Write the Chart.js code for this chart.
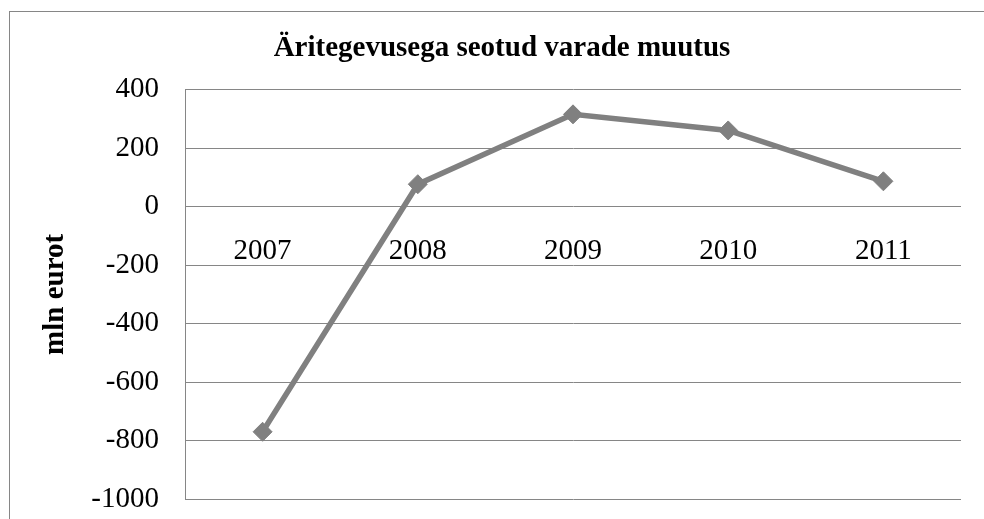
<!DOCTYPE html>
<html>
<head>
<meta charset="utf-8">
<title>Äritegevusega seotud varade muutus</title>
<script src="https://cdn.jsdelivr.net/npm/chart.js@4.4.1/dist/chart.umd.min.js"></script>
<style>
  html, body { margin: 0; padding: 0; background: #fff; overflow: hidden; }
  .frame { position: absolute; left: 9px; top: 11px; width: 1200px; height: 800px;
           border-left: 1px solid #868686; border-top: 1px solid #868686; }
  .chart-box { position: absolute; left: 0; top: 0; width: 984px; height: 519px; }
  #myChart { display: block; }
</style>
</head>
<body>
<div class="frame"></div>
<div class="chart-box"><canvas id="myChart" width="984" height="519"></canvas></div>
<script>
'use strict';
// DATA
var years = ['2007', '2008', '2009', '2010', '2011'];
var changeValues = [-770, 77, 316, 261, 87];
var yTicks = [400, 200, 0, -200, -400, -600, -800, -1000];

var SERIF = '"Liberation Serif", "Times New Roman", serif';
var GRID = '#868686';

// WYKRES
var ctx = document.getElementById('myChart').getContext('2d');

var chart = new Chart(ctx, {
  type: 'line',
  data: {
    labels: years,
    datasets: [{
      label: 'mln eurot',
      data: changeValues,
      borderColor: '#808080',
      backgroundColor: '#808080',
      borderWidth: 5.5,
      pointStyle: 'rectRot',
      pointRadius: 9.5,
      pointBorderWidth: 1,
      pointBorderColor: '#808080',
      pointBackgroundColor: '#808080',
      tension: 0
    }]
  },
  options: {
    responsive: false,
    animation: false,
    devicePixelRatio: 1,
    // left/right padding differ so the title sits where it does in the original
    layout: { padding: { left: 43, right: 23, top: 0, bottom: 20 } },
    plugins: {
      legend: { display: false },
      tooltip: { enabled: false },
      title: {
        display: true,
        text: 'Äritegevusega seotud varade muutus',
        color: '#000',
        font: { family: SERIF, size: 29, weight: 'bold', lineHeight: 1.2 },
        padding: { top: 31, bottom: 24 }
      }
    },
    scales: {
      x: {
        position: { y: 0 },
        offset: true,
        grid: { display: false },
        border: { display: false },
        ticks: {
          color: '#000',
          padding: 19,
          font: { family: SERIF, size: 29, lineHeight: 1.2 }
        }
      },
      y: {
        position: 'left',
        min: -1000,
        max: 400,
        afterFit: function(scale) {
          scale.width = 142;
          // tick padding would otherwise push the plot bottom up
          scale.paddingTop = 0;
          scale.paddingBottom = 0;
        },
        afterBuildTicks: function(scale) {
          scale.ticks = yTicks.map(function(v) { return { value: v }; });
        },
        grid: { color: GRID, lineWidth: 1, drawTicks: false },
        border: { display: true, color: GRID, width: 1 },
        ticks: {
          color: '#000',
          padding: 26,
          font: { family: SERIF, size: 29, lineHeight: 1.2 },
          callback: function(value) { return String(value); }
        },
        title: {
          display: true,
          text: 'mln eurot',
          color: '#000',
          font: { family: SERIF, size: 29, weight: 'bold', lineHeight: 1.2 },
          padding: { top: -5, bottom: 0 }
        }
      }
    }
  }
});
</script>
</body>
</html>
